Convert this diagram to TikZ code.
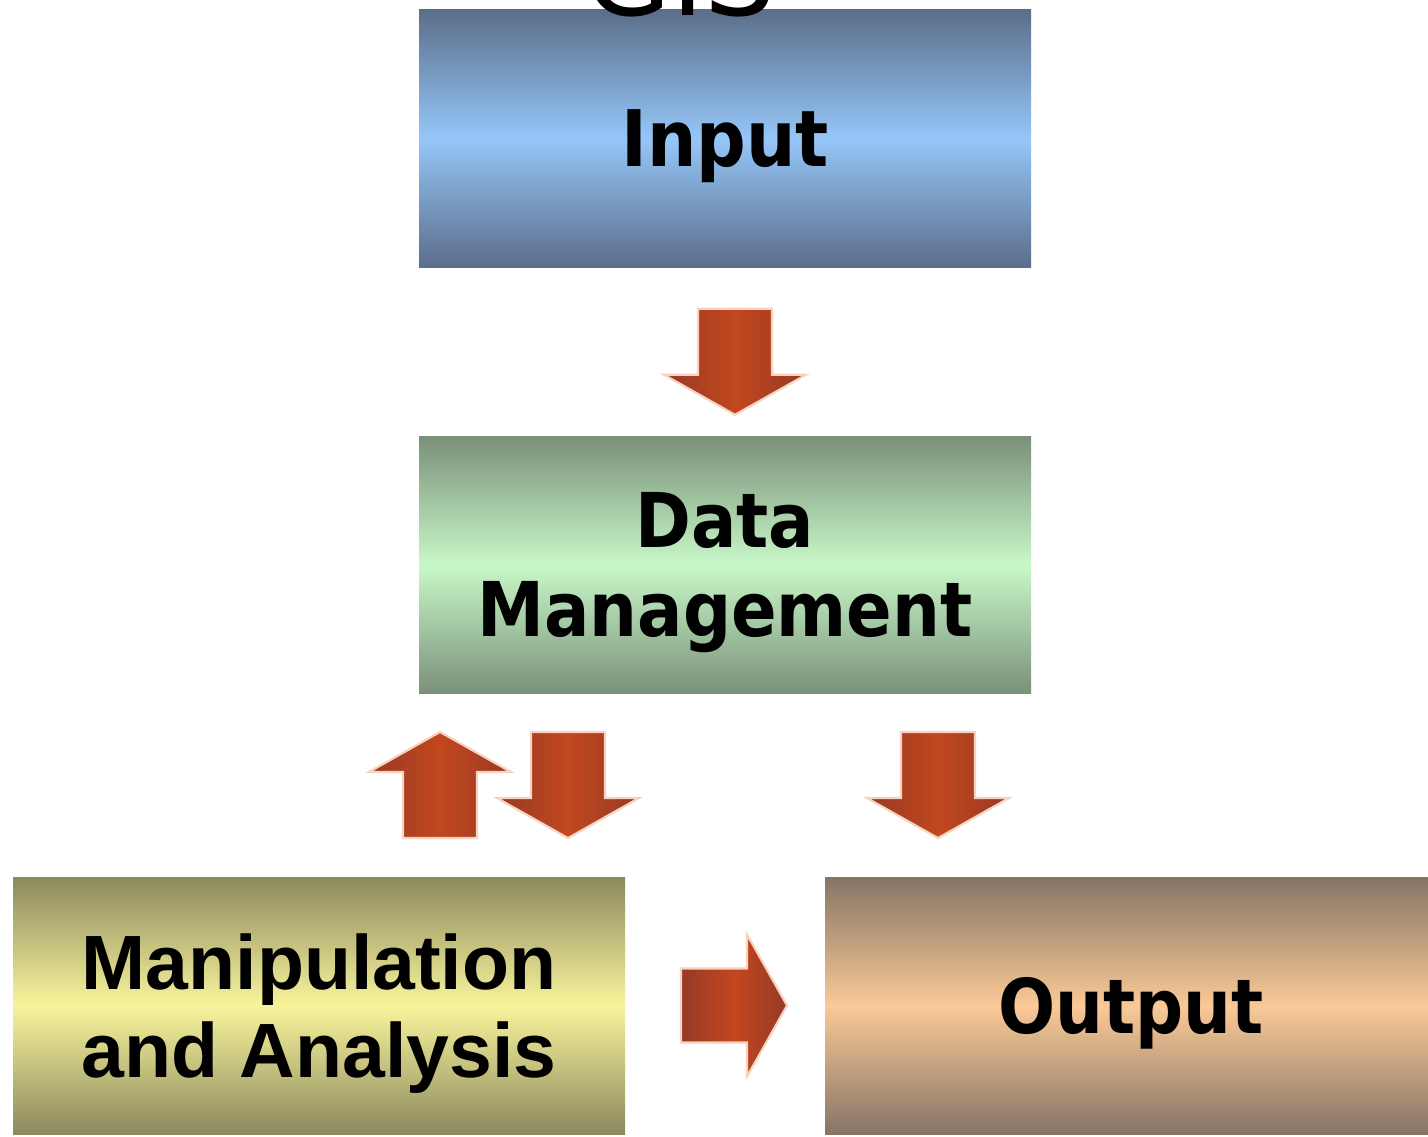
\documentclass[tikz,border=0pt]{standalone}
\usepackage{fontspec}
\setmainfont{DejaVu Sans}
\newfontfamily\boxfont{DejaVu Sans}[FakeStretch=0.89]
\newfontfamily\analysisfont{Liberation Sans}
\usetikzlibrary{positioning,calc}
\definecolor{inputdark}{HTML}{5B6E8A}
\definecolor{inputlight}{HTML}{95C6F8}
\definecolor{datadark}{HTML}{7A907A}
\definecolor{datalight}{HTML}{C8F8C8}
\definecolor{manipdark}{HTML}{8C895E}
\definecolor{maniplight}{HTML}{F8F49C}
\definecolor{outdark}{HTML}{857566}
\definecolor{outlight}{HTML}{FAC996}
\definecolor{arrowdark}{HTML}{963A26}
\definecolor{arrowmid}{HTML}{C2471E}
\definecolor{arrowglow}{HTML}{F7D2BF}

\tikzset{
  box/.style={minimum width=6.12cm, minimum height=2.57cm, inner sep=0pt,
              align=center, text depth=0pt,
              font=\boxfont\bfseries\fontsize{21.5pt}{25.3pt}\selectfont},
  shadebox/.style 2 args={top color=#1, bottom color=#1, middle color=#2},
  pics/blockarrow/.style={code={
    \shade[left color=arrowdark, right color=arrowdark, middle color=arrowmid,
           draw=arrowglow, line width=0.6pt]
      (-0.37,0.53) -- (0.37,0.53) -- (0.37,-0.13) -- (0.71,-0.13)
      -- (0,-0.53) -- (-0.71,-0.13) -- (-0.37,-0.13) -- cycle;
  }}
}

\begin{document}
\begin{tikzpicture}
  \useasboundingbox[fill=white] (0,0) rectangle (14.28,11.36);
  % Boxes
  \node[box, shadebox={inputdark}{inputlight},
        font=\boxfont\bfseries\fontsize{22.2pt}{25.3pt}\selectfont]
        (input) at (7.25,9.975) {Input};
  \node[box, shadebox={datadark}{datalight}, below=1.68cm of input]
        (data) {Data\\Management};
  \node[box, shadebox={manipdark}{maniplight},
        font=\analysisfont\bfseries\fontsize{21.9pt}{25pt}\selectfont]
        (manip) at (3.19,1.305) {Manipulation\\and Analysis};
  \node[box, shadebox={outdark}{outlight}] (output) at (11.31,1.305) {Output};
  % Title
  \node[font=\fontsize{32pt}{32pt}\selectfont, anchor=base, inner sep=0pt]
        (title) at (6.80,11.21) {GIS};
  % Block arrows
  \pic at ($(input.south)!0.5!(data.north)+(0.10,-0.10)$) {blockarrow};
  \pic[rotate=180] at (4.40,3.51) {blockarrow};
  \pic at (5.68,3.51) {blockarrow};
  \pic at (9.38,3.51) {blockarrow};
  \pic[rotate=90] at ($(manip.east)!0.5!(output.west)+(0.09,0)$) {blockarrow};
\end{tikzpicture}
\end{document}
